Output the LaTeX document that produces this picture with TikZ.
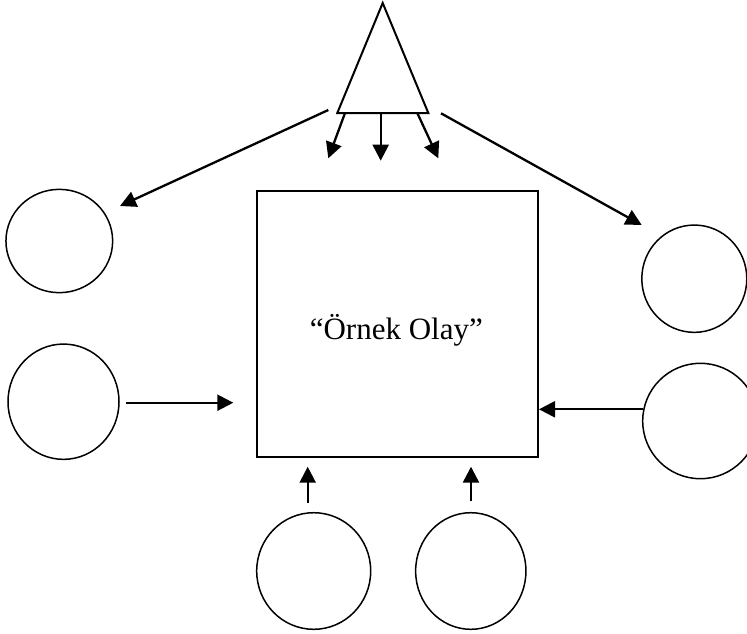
\documentclass[tikz,border=0pt]{standalone}
\usepackage{fontspec}
\setmainfont{Liberation Serif}
\usetikzlibrary{arrows.meta,shapes.geometric}
\tikzset{
  bubble/.style={draw, ellipse, line width=1.5pt, inner sep=0pt},
  casebox/.style={draw, rectangle, line width=1.8pt, inner sep=0pt},
  conn/.style={line width=2.3pt, -{Triangle[length=16pt,width=16pt]}},
  lbl/.style={font=\fontsize{31}{35}\selectfont, inner sep=0pt}
}
\begin{document}
\begin{tikzpicture}[x=1pt,y=-1pt]
\useasboundingbox (0,0) rectangle (747,633);
% central box
\node[casebox, minimum width=281pt, minimum height=266pt] (box) at (397.5,323.6) {};
\node[lbl, anchor=base] (title) at (396.3,339.3) {“Örnek Olay”};
% triangle
\coordinate (apex) at (382.7,3);
\coordinate (bl) at (337.3,113);
\coordinate (br) at (428.3,113);
\draw[line width=2pt, line join=miter] (apex) -- (br) -- (bl) -- cycle;
% circles
\node[bubble, minimum width=106.7pt, minimum height=103.3pt] (L1) at (59.3,241) {};
\node[bubble, minimum width=111pt, minimum height=115.3pt] (L2) at (63.5,401.7) {};
\node[bubble, minimum width=105pt, minimum height=107.3pt] (R1) at (694.3,278.7) {};
\node[bubble, minimum width=115.4pt, minimum height=115.4pt] (R2) at (700.4,421) {};
\node[bubble, minimum width=114pt, minimum height=116.6pt] (B1) at (313.7,571) {};
\node[bubble, minimum width=110.3pt, minimum height=116.6pt] (B2) at (470.8,571) {};
% arrow ends
\coordinate (a1s) at (328.3,110);  \coordinate (a1e) at (120,206);
\coordinate (a2s) at (441,113.3);  \coordinate (a2e) at (641.7,225);
\coordinate (s1s) at (345,113);    \coordinate (s1e) at (328.3,158.3);
\coordinate (s2s) at (380.7,113);  \coordinate (s2e) at (380.7,160.7);
\coordinate (s3s) at (417.3,113);  \coordinate (s3e) at (438.3,158.3);
\coordinate (ls) at (126,402.7);   \coordinate (le) at (233.3,402.7);
\coordinate (rs) at (643,409.3);   \coordinate (re) at (539,409.3);
\coordinate (b1s) at (307.7,503.3); \coordinate (b1e) at (307.7,466.7);
\coordinate (b2s) at (471,501);    \coordinate (b2e) at (471,466.7);
% connectors
\draw[conn] (a1s) -- (a1e);
\draw[conn] (a2s) -- (a2e);
\draw[conn] (s1s) -- (s1e);
\draw[conn] (s2s) -- (s2e);
\draw[conn] (s3s) -- (s3e);
\draw[conn] (ls) -- (le);
\draw[conn] (rs) -- (re);
\draw[conn] (b1s) -- (b1e);
\draw[conn] (b2s) -- (b2e);
\end{tikzpicture}
\end{document}
